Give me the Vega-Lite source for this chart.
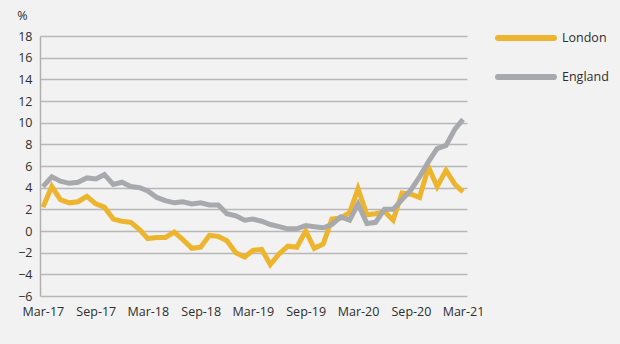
{
  "$schema": "https://vega.github.io/schema/vega-lite/v6.json",
  "autosize": "none",
  "width": 427,
  "height": 260,
  "padding": {"left": 40, "top": 36, "right": 153, "bottom": 48},
  "background": "#f2f2f2",
  "config": {
    "view": {"stroke": null},
    "font": "Open Sans",
    "axis": {"labelFont": "Open Sans", "labelFontSize": 12.5, "labelColor": "#2e2e2e", "titleFont": "Open Sans", "titleColor": "#2e2e2e"},
    "legend": {"labelFont": "Open Sans", "labelFontSize": 12.5, "labelColor": "#2e2e2e"}
  },
  "data": {
    "values": [
      {"date": "2017-03-01", "series": "London", "value": 2.2},
      {"date": "2017-04-01", "series": "London", "value": 4.1},
      {"date": "2017-05-01", "series": "London", "value": 2.9},
      {"date": "2017-06-01", "series": "London", "value": 2.6},
      {"date": "2017-07-01", "series": "London", "value": 2.7},
      {"date": "2017-08-01", "series": "London", "value": 3.2},
      {"date": "2017-09-01", "series": "London", "value": 2.5},
      {"date": "2017-10-01", "series": "London", "value": 2.2},
      {"date": "2017-11-01", "series": "London", "value": 1.1},
      {"date": "2017-12-01", "series": "London", "value": 0.9},
      {"date": "2018-01-01", "series": "London", "value": 0.8},
      {"date": "2018-02-01", "series": "London", "value": 0.1},
      {"date": "2018-03-01", "series": "London", "value": -0.7},
      {"date": "2018-04-01", "series": "London", "value": -0.6},
      {"date": "2018-05-01", "series": "London", "value": -0.6},
      {"date": "2018-06-01", "series": "London", "value": -0.1},
      {"date": "2018-07-01", "series": "London", "value": -0.8},
      {"date": "2018-08-01", "series": "London", "value": -1.6},
      {"date": "2018-09-01", "series": "London", "value": -1.5},
      {"date": "2018-10-01", "series": "London", "value": -0.4},
      {"date": "2018-11-01", "series": "London", "value": -0.5},
      {"date": "2018-12-01", "series": "London", "value": -0.9},
      {"date": "2019-01-01", "series": "London", "value": -2.0},
      {"date": "2019-02-01", "series": "London", "value": -2.4},
      {"date": "2019-03-01", "series": "London", "value": -1.8},
      {"date": "2019-04-01", "series": "London", "value": -1.7},
      {"date": "2019-05-01", "series": "London", "value": -3.1},
      {"date": "2019-06-01", "series": "London", "value": -2.1},
      {"date": "2019-07-01", "series": "London", "value": -1.4},
      {"date": "2019-08-01", "series": "London", "value": -1.5},
      {"date": "2019-09-01", "series": "London", "value": 0.0},
      {"date": "2019-10-01", "series": "London", "value": -1.6},
      {"date": "2019-11-01", "series": "London", "value": -1.2},
      {"date": "2019-12-01", "series": "London", "value": 1.1},
      {"date": "2020-01-01", "series": "London", "value": 1.2},
      {"date": "2020-02-01", "series": "London", "value": 1.7},
      {"date": "2020-03-01", "series": "London", "value": 3.9},
      {"date": "2020-04-01", "series": "London", "value": 1.5},
      {"date": "2020-05-01", "series": "London", "value": 1.6},
      {"date": "2020-06-01", "series": "London", "value": 1.8},
      {"date": "2020-07-01", "series": "London", "value": 1.0},
      {"date": "2020-08-01", "series": "London", "value": 3.5},
      {"date": "2020-09-01", "series": "London", "value": 3.4},
      {"date": "2020-10-01", "series": "London", "value": 3.1},
      {"date": "2020-11-01", "series": "London", "value": 5.9},
      {"date": "2020-12-01", "series": "London", "value": 4.1},
      {"date": "2021-01-01", "series": "London", "value": 5.6},
      {"date": "2021-02-01", "series": "London", "value": 4.3},
      {"date": "2021-03-01", "series": "London", "value": 3.6},
      {"date": "2017-03-01", "series": "England", "value": 4.1},
      {"date": "2017-04-01", "series": "England", "value": 5.0},
      {"date": "2017-05-01", "series": "England", "value": 4.6},
      {"date": "2017-06-01", "series": "England", "value": 4.4},
      {"date": "2017-07-01", "series": "England", "value": 4.5},
      {"date": "2017-08-01", "series": "England", "value": 4.9},
      {"date": "2017-09-01", "series": "England", "value": 4.8},
      {"date": "2017-10-01", "series": "England", "value": 5.2},
      {"date": "2017-11-01", "series": "England", "value": 4.3},
      {"date": "2017-12-01", "series": "England", "value": 4.5},
      {"date": "2018-01-01", "series": "England", "value": 4.1},
      {"date": "2018-02-01", "series": "England", "value": 4.0},
      {"date": "2018-03-01", "series": "England", "value": 3.7},
      {"date": "2018-04-01", "series": "England", "value": 3.1},
      {"date": "2018-05-01", "series": "England", "value": 2.8},
      {"date": "2018-06-01", "series": "England", "value": 2.6},
      {"date": "2018-07-01", "series": "England", "value": 2.7},
      {"date": "2018-08-01", "series": "England", "value": 2.5},
      {"date": "2018-09-01", "series": "England", "value": 2.6},
      {"date": "2018-10-01", "series": "England", "value": 2.4},
      {"date": "2018-11-01", "series": "England", "value": 2.4},
      {"date": "2018-12-01", "series": "England", "value": 1.6},
      {"date": "2019-01-01", "series": "England", "value": 1.4},
      {"date": "2019-02-01", "series": "England", "value": 1.0},
      {"date": "2019-03-01", "series": "England", "value": 1.1},
      {"date": "2019-04-01", "series": "England", "value": 0.9},
      {"date": "2019-05-01", "series": "England", "value": 0.6},
      {"date": "2019-06-01", "series": "England", "value": 0.4},
      {"date": "2019-07-01", "series": "England", "value": 0.2},
      {"date": "2019-08-01", "series": "England", "value": 0.2},
      {"date": "2019-09-01", "series": "England", "value": 0.5},
      {"date": "2019-10-01", "series": "England", "value": 0.4},
      {"date": "2019-11-01", "series": "England", "value": 0.3},
      {"date": "2019-12-01", "series": "England", "value": 0.6},
      {"date": "2020-01-01", "series": "England", "value": 1.3},
      {"date": "2020-02-01", "series": "England", "value": 1.0},
      {"date": "2020-03-01", "series": "England", "value": 2.5},
      {"date": "2020-04-01", "series": "England", "value": 0.7},
      {"date": "2020-05-01", "series": "England", "value": 0.8},
      {"date": "2020-06-01", "series": "England", "value": 2.0},
      {"date": "2020-07-01", "series": "England", "value": 2.0},
      {"date": "2020-08-01", "series": "England", "value": 2.9},
      {"date": "2020-09-01", "series": "England", "value": 3.8},
      {"date": "2020-10-01", "series": "England", "value": 5.0},
      {"date": "2020-11-01", "series": "England", "value": 6.4},
      {"date": "2020-12-01", "series": "England", "value": 7.6},
      {"date": "2021-01-01", "series": "England", "value": 7.9},
      {"date": "2021-02-01", "series": "England", "value": 9.4},
      {"date": "2021-03-01", "series": "England", "value": 10.3}
    ]
  },
  "mark": {"type": "line", "strokeWidth": 5, "strokeJoin": "miter", "strokeCap": "butt"},
  "encoding": {
    "x": {
      "field": "date",
      "type": "temporal",
      "scale": {
        "type": "utc",
        "domain": [
          {"year": 2017, "month": "feb", "date": 19, "utc": true},
          {"year": 2021, "month": "mar", "date": 15, "utc": true}
        ]
      },
      "axis": {
        "title": null,
        "labelExpr": "utcFormat(datum.value, '%b-%y')",
        "values": [
          {"year": 2017, "month": "mar", "date": 1, "utc": true},
          {"year": 2017, "month": "sep", "date": 1, "utc": true},
          {"year": 2018, "month": "mar", "date": 1, "utc": true},
          {"year": 2018, "month": "sep", "date": 1, "utc": true},
          {"year": 2019, "month": "mar", "date": 1, "utc": true},
          {"year": 2019, "month": "sep", "date": 1, "utc": true},
          {"year": 2020, "month": "mar", "date": 1, "utc": true},
          {"year": 2020, "month": "sep", "date": 1, "utc": true},
          {"year": 2021, "month": "mar", "date": 1, "utc": true}
        ],
        "grid": false,
        "domain": false,
        "ticks": false,
        "labelPadding": 9,
        "labelFlush": false
      }
    },
    "y": {
      "field": "value",
      "type": "quantitative",
      "scale": {"domain": [-6, 18], "nice": false, "zero": false},
      "axis": {
        "values": [-6, -4, -2, 0, 2, 4, 6, 8, 10, 12, 14, 16, 18],
        "title": "%",
        "titleAngle": 0,
        "titleX": -18,
        "titleY": -21,
        "titleAlign": "center",
        "titleBaseline": "middle",
        "titleFontSize": 12.5,
        "titleFontWeight": "normal",
        "ticks": false,
        "labelPadding": 8,
        "domain": true,
        "domainColor": "#b0b0b0",
        "domainWidth": 1.5,
        "grid": true,
        "gridColor": "#b8b8b8",
        "gridWidth": 1.3
      }
    },
    "color": {
      "field": "series",
      "type": "nominal",
      "scale": {"domain": ["London", "England"], "range": ["#edb52e", "#a7a9ac"]},
      "legend": {
        "title": null,
        "orient": "none",
        "legendX": 455,
        "legendY": -8,
        "symbolType": "stroke",
        "symbolSize": 3136,
        "symbolStrokeWidth": 6,
        "clipHeight": 20,
        "rowPadding": 19,
        "labelOffset": 5,
        "encode": {"symbols": {"update": {"strokeCap": {"value": "round"}}}}
      }
    }
  }
}
